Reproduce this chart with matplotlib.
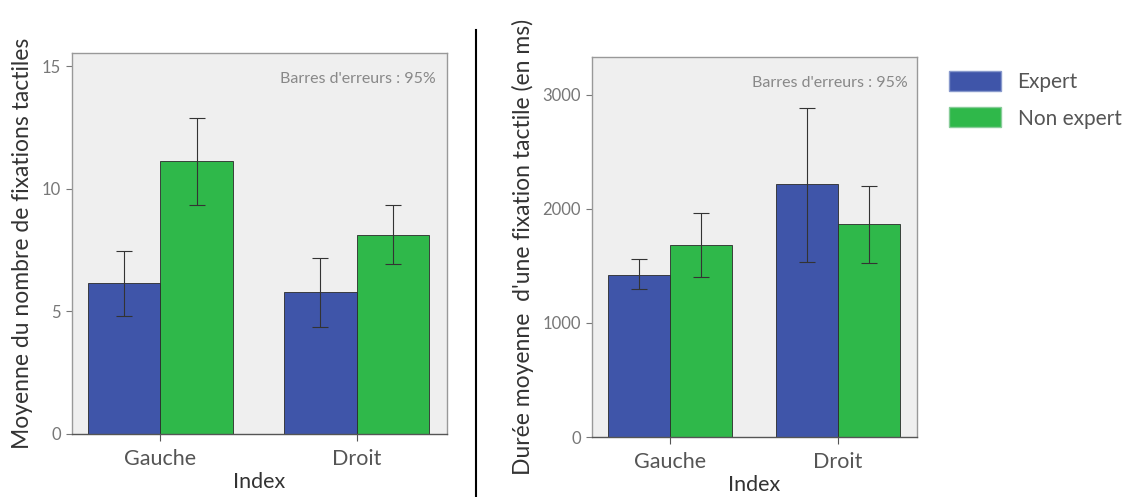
import numpy as np
import matplotlib
matplotlib.use('Agg')
import matplotlib.pyplot as plt
from matplotlib.patches import Patch

# =========================
# Data
# =========================
index_labels = ['Gauche', 'Droit']
groups = ['Expert', 'Non expert']

# Nombre de fixations tactiles
fix_expert = [6.15, 5.78]
fix_expert_lo = [4.82, 4.38]
fix_expert_hi = [7.47, 7.20]
fix_nonexp = [11.14, 8.12]
fix_nonexp_lo = [9.35, 6.94]
fix_nonexp_hi = [12.91, 9.35]

# Duree moyenne d'une fixation (ms)
dur_expert = [1421, 2216]
dur_expert_lo = [1295, 1538]
dur_expert_hi = [1559, 2883]
dur_nonexp = [1684, 1868]
dur_nonexp_lo = [1401, 1529]
dur_nonexp_hi = [1968, 2205]

col_expert = '#3f55a9'
col_nonexp = '#2fb84a'

plt.rcParams['font.family'] = ['Lato', 'DejaVu Sans']

fig = plt.figure(figsize=(11.31, 4.97), dpi=100)
W, H = 1131, 497


def draw(ax, exp, exp_lo, exp_hi, nex, nex_lo, nex_hi, ylim, yticks, ylabel):
    x = np.arange(len(index_labels))
    w = 0.37
    err_e = [np.array(exp) - np.array(exp_lo), np.array(exp_hi) - np.array(exp)]
    err_n = [np.array(nex) - np.array(nex_lo), np.array(nex_hi) - np.array(nex)]
    ax.bar(x - w / 2, exp, w, color=col_expert, edgecolor='#2a2a2a', linewidth=0.6, zorder=2)
    ax.bar(x + w / 2, nex, w, color=col_nonexp, edgecolor='#2a2a2a', linewidth=0.6, zorder=2)
    ax.errorbar(x - w / 2, exp, yerr=err_e, fmt='none', ecolor='#333333',
                elinewidth=0.8, capsize=6, capthick=0.8, zorder=3)
    ax.errorbar(x + w / 2, nex, yerr=err_n, fmt='none', ecolor='#333333',
                elinewidth=0.8, capsize=6, capthick=0.8, zorder=3)
    ax.set_facecolor('#efefef')
    ax.set_ylim(*ylim)
    ax.set_xlim(-0.45, 1.46)
    ax.set_yticks(yticks)
    ax.set_xticks(x)
    ax.set_xticklabels(index_labels, fontsize=15.5, color='#555555')
    ax.tick_params(axis='y', labelsize=12, colors='#777777', length=4, pad=4)
    ax.tick_params(axis='x', length=5, colors='#555555', pad=6)
    for s in ax.spines.values():
        s.set_color('#999999')
        s.set_linewidth(1)
    ax.spines['bottom'].set_color('#555555')
    ax.set_xlabel('Index', fontsize=15.5, color='#333333', labelpad=2)
    ax.set_ylabel(ylabel, fontsize=16.5, color='#333333', labelpad=6)
    ax.text(0.97, 0.95, "Barres d'erreurs : 95%", transform=ax.transAxes,
            ha='right', va='top', fontsize=11.5, color='#888888')


# Axes positions in pixels (left, top, right, bottom)
ax1 = fig.add_axes([72 / W, 1 - 434 / H, (447 - 72) / W, (434 - 53) / H])
draw(ax1, fix_expert, fix_expert_lo, fix_expert_hi,
     fix_nonexp, fix_nonexp_lo, fix_nonexp_hi,
     (0, 15.55), [0, 5, 10, 15], 'Moyenne du nombre de fixations tactiles')

ax2 = fig.add_axes([592 / W, 1 - 437 / H, (917 - 592) / W, (437 - 57) / H])
draw(ax2, dur_expert, dur_expert_lo, dur_expert_hi,
     dur_nonexp, dur_nonexp_lo, dur_nonexp_hi,
     (0, 3333), [0, 1000, 2000, 3000],
     "Durée moyenne  d'une fixation tactile (en ms)")
ax2.set_xlim(-0.465, 1.47)

# Ligne de separation
fig.add_artist(plt.Line2D([476 / W, 476 / W], [0, 1 - 30 / H],
                          transform=fig.transFigure, color='black', linewidth=1.5))

# Legende
handles = [Patch(facecolor=col_expert, edgecolor='#8899cc', label='Expert'),
           Patch(facecolor=col_nonexp, edgecolor='#88cc99', label='Non expert')]
fig.legend(handles=handles, loc='upper left', bbox_to_anchor=(930 / W, 1 - 52 / H),
           frameon=False, fontsize=15, handlelength=2.5, handleheight=1.1,
           labelspacing=0.75, handletextpad=0.8, labelcolor='#555555')

plt.savefig('out.png', dpi=100)
